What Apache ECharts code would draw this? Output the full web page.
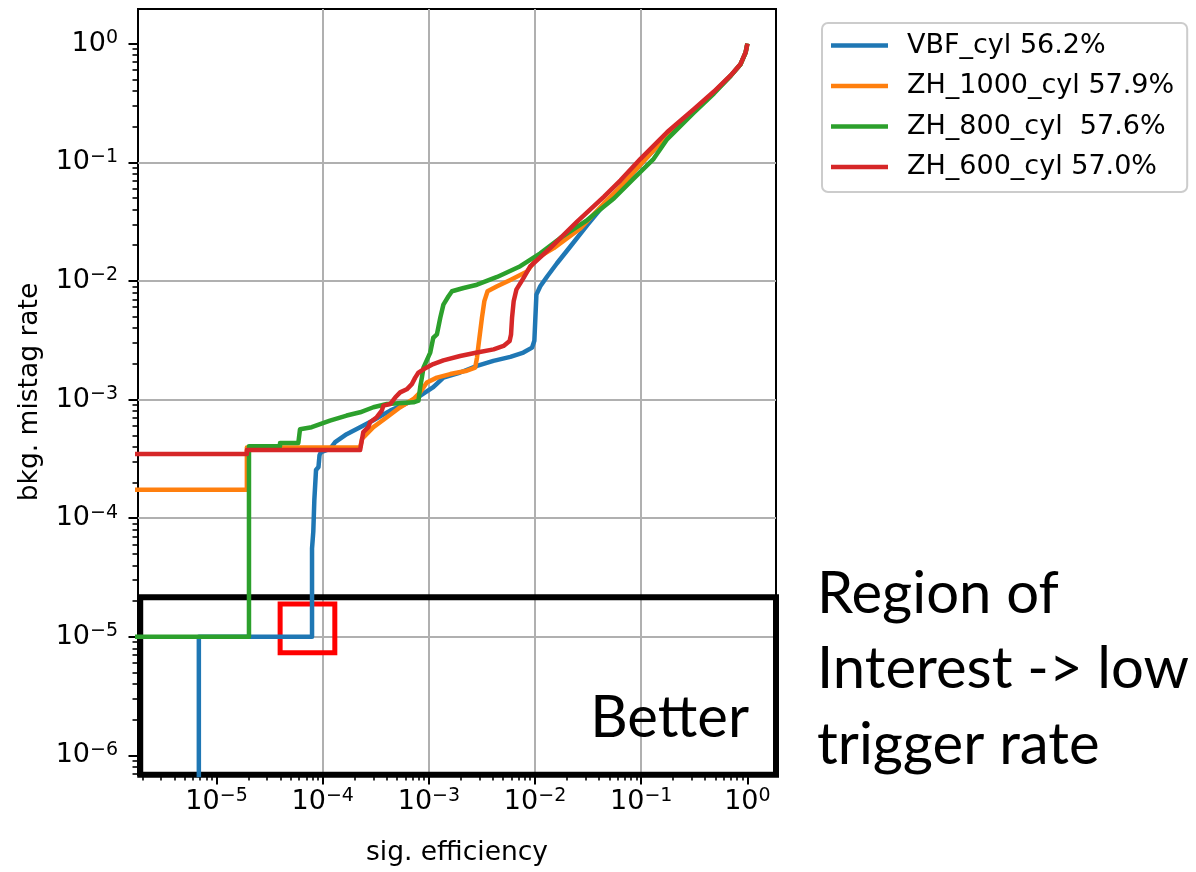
<!DOCTYPE html>
<html>
<head>
<meta charset="utf-8">
<script src="https://cdn.jsdelivr.net/npm/echarts@6/dist/echarts.min.js"></script>
<style>html,body{margin:0;padding:0;background:#fff}#c{width:1196px;height:872px}</style>
</head>
<body>
<div id="c"></div>
<script>
// ---- axis ranges and ticks ----
const xMin = 1.82e-6, xMax = 1.86;
const yMin = 6.84e-7, yMax = 1.96;
const majorTicks = [1e-6, 1e-5, 1e-4, 1e-3, 1e-2, 1e-1, 1];

// ---- series names ----
const seriesNames = ['VBF_cyl 56.2%', 'ZH_1000_cyl 57.9%', 'ZH_800_cyl  57.6%', 'ZH_600_cyl 57.0%'];
const seriesColors = ['#1f77b4', '#ff7f0e', '#2ca02c', '#d62728'];

// ---- VBF_cyl ----
const vbfX = [6.81e-6, 6.81e-6, 7.93e-5, 7.93e-5, 8.15e-5, 8.15e-5, 8.34e-5, 8.34e-5, 8.65e-5, 8.65e-5, 9.12e-5, 9.33e-5, 9.64e-5, 1.17e-4, 1.31e-4, 1.68e-4, 2.25e-4, 3.00e-4, 4.32e-4, 7.11e-4, 1.10e-3, 1.37e-3, 1.97e-3, 2.84e-3, 4.05e-3, 5.85e-3, 7.76e-3, 9.37e-3, 9.85e-3, 1.007e-2, 1.03e-2, 1.12e-2, 1.30e-2, 1.61e-2, 2.15e-2, 3.10e-2, 4.44e-2, 6.38e-2, 0.1, 0.176, 0.313, 0.484, 0.695, 0.863, 0.962, 1];
const vbfY = [1e-7, 1e-5, 1e-5, 5.55e-5, 5.55e-5, 7.71e-5, 7.71e-5, 1.43e-4, 1.43e-4, 2.55e-4, 2.70e-4, 3.40e-4, 3.61e-4, 3.83e-4, 4.38e-4, 5.11e-4, 5.85e-4, 6.70e-4, 8.07e-4, 9.84e-4, 1.27e-3, 1.53e-3, 1.69e-3, 1.92e-3, 2.12e-3, 2.29e-3, 2.49e-3, 2.74e-3, 3.13e-3, 4.89e-3, 7.66e-3, 9.01e-3, 1.09e-2, 1.41e-2, 1.95e-2, 2.96e-2, 4.35e-2, 6.21e-2, 9.73e-2, 0.168, 0.272, 0.388, 0.535, 0.671, 0.841, 1];

// ---- ZH_1000_cyl ----
const zh1000X = [1e-6, 1.93e-5, 1.93e-5, 2.25e-4, 2.35e-4, 3.00e-4, 4.02e-4, 5.36e-4, 7.16e-4, 8.28e-4, 9.57e-4, 1.19e-3, 1.59e-3, 2.28e-3, 2.73e-3, 2.84e-3, 2.94e-3, 3.16e-3, 3.33e-3, 3.57e-3, 4.39e-3, 5.85e-3, 8.41e-3, 1.045e-2, 1.50e-2, 2.67e-2, 4.44e-2, 6.38e-2, 0.1, 0.176, 0.313, 0.484, 0.695, 0.863, 0.962, 1];
const zh1000Y = [1.74e-4, 1.74e-4, 3.95e-4, 3.95e-4, 4.67e-4, 5.85e-4, 7.10e-4, 8.61e-4, 1.01e-3, 1.15e-3, 1.39e-3, 1.53e-3, 1.64e-3, 1.75e-3, 1.86e-3, 2.26e-3, 2.92e-3, 4.89e-3, 6.75e-3, 8.18e-3, 9.01e-3, 1.02e-2, 1.20e-2, 1.56e-2, 1.89e-2, 2.77e-2, 4.50e-2, 6.21e-2, 9.73e-2, 0.168, 0.272, 0.388, 0.535, 0.671, 0.841, 1];

// ---- ZH_800_cyl ----
const zh800X = [1e-6, 2.02e-5, 2.02e-5, 3.96e-5, 3.96e-5, 5.89e-5, 6.11e-5, 7.87e-5, 8.15e-5, 1.17e-4, 1.68e-4, 2.25e-4, 3.00e-4, 4.02e-4, 7.16e-4, 7.98e-4, 8.28e-4, 8.59e-4, 8.89e-4, 1.03e-3, 1.10e-3, 1.19e-3, 1.28e-3, 1.37e-3, 1.53e-3, 1.65e-3, 2.12e-3, 2.84e-3, 4.39e-3, 7.26e-3, 1.12e-2, 1.72e-2, 3.10e-2, 5.52e-2, 8.48e-2, 0.131, 0.176, 0.313, 0.484, 0.695, 0.863, 0.962, 1];
const zh800Y = [1e-5, 1e-5, 4.03e-4, 4.03e-4, 4.30e-4, 4.30e-4, 5.62e-4, 5.85e-4, 6.04e-4, 6.65e-4, 7.33e-4, 7.81e-4, 8.61e-4, 9.17e-4, 9.48e-4, 9.79e-4, 1.27e-3, 1.53e-3, 1.86e-3, 2.49e-3, 3.32e-3, 3.54e-3, 4.89e-3, 6.31e-3, 7.43e-3, 8.18e-3, 8.72e-3, 9.29e-3, 1.08e-2, 1.33e-2, 1.71e-2, 2.29e-2, 3.26e-2, 4.95e-2, 7.29e-2, 0.107, 0.157, 0.262, 0.38, 0.535, 0.671, 0.841, 1];

// ---- ZH_600_cyl ----
const zh600X = [1e-6, 1.93e-5, 1.93e-5, 2.25e-4, 2.41e-4, 2.69e-4, 2.79e-4, 3.23e-4, 3.60e-4, 3.73e-4, 4.32e-4, 4.81e-4, 5.36e-4, 6.19e-4, 6.91e-4, 7.43e-4, 7.98e-4, 8.89e-4, 1.10e-3, 1.37e-3, 1.97e-3, 2.84e-3, 4.07e-3, 5.05e-3, 5.76e-3, 5.94e-3, 6.07e-3, 6.29e-3, 6.67e-3, 7.80e-3, 9.03e-3, 1.39e-2, 2.49e-2, 4.44e-2, 6.38e-2, 9.85e-2, 0.176, 0.313, 0.484, 0.695, 0.863, 0.962, 1];
const zh600Y = [3.47e-4, 3.47e-4, 3.75e-4, 3.75e-4, 5.31e-4, 5.85e-4, 6.44e-4, 7.10e-4, 8.07e-4, 8.89e-4, 9.17e-4, 1.04e-3, 1.15e-3, 1.22e-3, 1.35e-3, 1.53e-3, 1.69e-3, 1.80e-3, 1.99e-3, 2.14e-3, 2.33e-3, 2.49e-3, 2.65e-3, 2.83e-3, 3.12e-3, 3.54e-3, 4.89e-3, 6.75e-3, 8.44e-3, 1.06e-2, 1.33e-2, 1.89e-2, 3.16e-2, 5.12e-2, 7.05e-2, 0.107, 0.180, 0.28, 0.395, 0.54, 0.675, 0.843, 1];

// ---- annotation boxes (data coordinates) ----
const regionBox = [[1.91e-6, 2.16e-5], [1.92, 6.88e-7]];
const focusBox = [[3.97e-5, 1.89e-5], [1.30e-4, 7.34e-6]];

// minor ticks (2..9 x 10^k)
const minorTicksX = [], minorTicksY = [];
for (let e = -7; e <= 0; e++) {
  for (let m = 2; m <= 9; m++) {
    const v = m * Math.pow(10, e);
    if (v > xMin && v < xMax) minorTicksX.push(v);
    if (v > yMin && v < yMax) minorTicksY.push(v);
  }
}

function zip(xs, ys) { return xs.map((x, i) => [x, ys[i]]); }
const allData = [zip(vbfX, vbfY), zip(zh1000X, zh1000Y), zip(zh800X, zh800Y), zip(zh600X, zh600Y)];

const FONT = 'DejaVu Sans';
const FS = 26.5;
function powLabel(v) {
  const e = Math.round(Math.log10(v));
  if (Math.abs(Math.log10(v) - e) > 0.01) return '';
  const s = e < 0 ? '\u2212' + (-e) : String(e);
  return '{b|10}{s|' + s + '}';
}
const richLabel = {
  b: { fontSize: 27, fontFamily: FONT, color: '#000', lineHeight: 30, verticalAlign: 'middle' },
  s: { fontSize: 19, fontFamily: FONT, color: '#000', lineHeight: 5, verticalAlign: 'top' }
};

const chart = echarts.init(document.getElementById('c'), null, { renderer: 'canvas' });

const lineSeries = allData.map((d, i) => ({
  name: seriesNames[i],
  type: 'line',
  data: d,
  xAxisIndex: 0,
  yAxisIndex: 0,
  symbol: 'none',
  showSymbol: false,
  clip: true,
  z: 3 + i,
  lineStyle: { color: seriesColors[i], width: 4.5, join: 'round', cap: 'butt' },
  itemStyle: { color: seriesColors[i] },
  emphasis: { disabled: true },
  animation: false
}));

const option = {
  animation: false,
  backgroundColor: '#fff',
  textStyle: { fontFamily: FONT },
  grid: { left: 138, top: 9, width: 638, height: 771, show: true, borderColor: '#000', borderWidth: 2, backgroundColor: 'transparent', containLabel: false },
  legend: {
    data: seriesNames.map(n => ({ name: n, icon: 'rect' })),
    orient: 'vertical',
    left: 822, top: 23,
    padding: [8.5, 13, 11, 9],
    itemWidth: 57, itemHeight: 4.5, itemGap: 12.5,
    borderColor: '#cccccc', borderWidth: 2, borderRadius: 6,
    backgroundColor: 'rgba(255,255,255,0.8)',
    textStyle: { fontFamily: FONT, fontSize: 27, color: '#000', lineHeight: 28, padding: [0, 0, 0, 14] },
    selectedMode: false
  },
  xAxis: [
    {
      type: 'log', logBase: 10, min: xMin, max: xMax, position: 'bottom',
      name: 'sig. efficiency', nameLocation: 'middle', nameGap: 65,
      nameTextStyle: { fontFamily: FONT, fontSize: FS, color: '#000' },
      axisLine: { show: false },
      axisTick: { show: true, inside: false, length: 9.5, lineStyle: { color: '#000', width: 2 }, customValues: majorTicks },
      axisLabel: { customValues: majorTicks, formatter: powLabel, rich: richLabel, margin: 12 },
      splitLine: { show: true, showMinLine: false, showMaxLine: false, lineStyle: { color: '#b0b0b0', width: 2 } }
    },
    {
      type: 'log', logBase: 10, min: xMin, max: xMax, position: 'bottom', gridIndex: 0,
      axisLine: { show: false },
      axisTick: { show: true, inside: false, length: 5.5, lineStyle: { color: '#000', width: 1.6 }, customValues: minorTicksX },
      axisLabel: { show: false },
      splitLine: { show: false }
    }
  ],
  yAxis: [
    {
      type: 'log', logBase: 10, min: yMin, max: yMax, position: 'left',
      name: 'bkg. mistag rate', nameLocation: 'middle', nameGap: 94, nameRotate: 90,
      nameTextStyle: { fontFamily: FONT, fontSize: FS, color: '#000' },
      axisLine: { show: false },
      axisTick: { show: true, inside: false, length: 9.5, lineStyle: { color: '#000', width: 2 }, customValues: majorTicks },
      axisLabel: { customValues: majorTicks, formatter: powLabel, rich: richLabel, margin: 20 },
      splitLine: { show: true, showMinLine: false, showMaxLine: false, lineStyle: { color: '#b0b0b0', width: 2 } }
    },
    {
      type: 'log', logBase: 10, min: yMin, max: yMax, position: 'left', gridIndex: 0,
      axisLine: { show: false },
      axisTick: { show: true, inside: false, length: 5.5, lineStyle: { color: '#000', width: 1.6 }, customValues: minorTicksY },
      axisLabel: { show: false },
      splitLine: { show: false }
    }
  ],
  series: lineSeries.concat([{
    name: 'annotations',
    type: 'line',
    data: [],
    xAxisIndex: 0, yAxisIndex: 0,
    clip: false,
    z: 10,
    silent: true,
    markArea: {
      silent: true,
      itemStyle: { color: 'rgba(0,0,0,0)', borderColor: '#000', borderWidth: 6 },
      label: { show: false },
      data: [
        [{ coord: regionBox[0], itemStyle: { color: 'rgba(0,0,0,0)', borderColor: '#000', borderWidth: 6 } }, { coord: regionBox[1] }],
        [{ coord: focusBox[0], itemStyle: { color: 'rgba(0,0,0,0)', borderColor: '#ff0000', borderWidth: 5 } }, { coord: focusBox[1] }]
      ]
    }
  }]),
  graphic: [
    { type: 'text', z: 100, x: 749, y: 718, style: { text: 'Better', font: '58px Lato', fill: '#000', textAlign: 'right', textVerticalAlign: 'middle' } },
    { type: 'text', z: 100, x: 817, y: 594, style: { text: 'Region of', font: '58px Lato', fill: '#000', textAlign: 'left', textVerticalAlign: 'middle' } },
    { type: 'text', z: 100, x: 817, y: 669, style: { text: 'Interest -> low', font: '58px Lato', fill: '#000', textAlign: 'left', textVerticalAlign: 'middle' } },
    { type: 'text', z: 100, x: 817, y: 745, style: { text: 'trigger rate', font: '58px Lato', fill: '#000', textAlign: 'left', textVerticalAlign: 'middle' } }
  ]
};
chart.setOption(option);
</script>
</body>
</html>
